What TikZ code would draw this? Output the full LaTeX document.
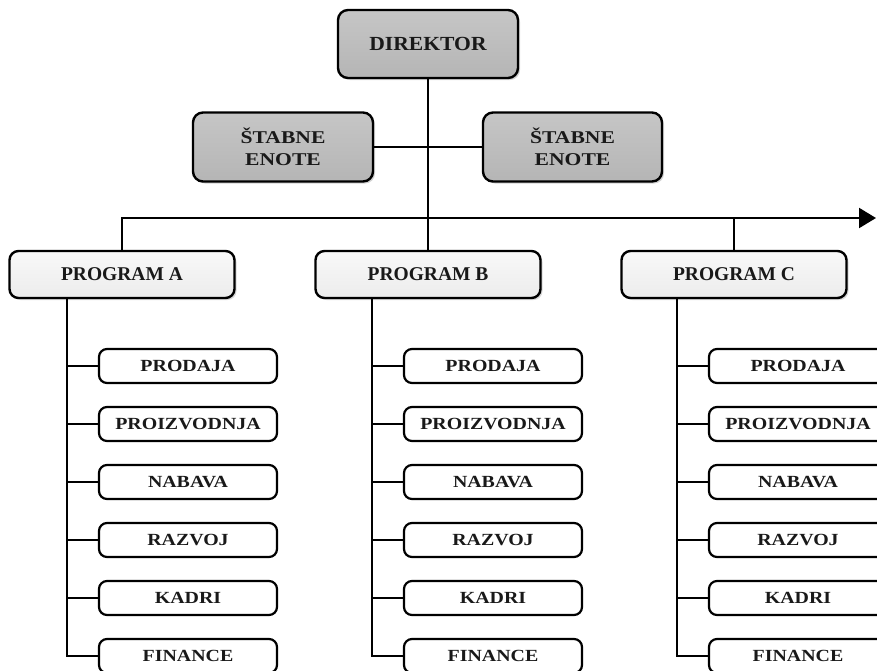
\documentclass[tikz,border=0pt]{standalone}
\usepackage{fontspec}
\setmainfont{Liberation Serif}
\newfontfamily\bigfont[FakeStretch=1.08]{Liberation Serif}
\newfontfamily\stabfont[FakeStretch=1.2]{Liberation Serif}
\newfontfamily\progfont[FakeStretch=1.0]{Liberation Serif}
\newfontfamily\smallfont[FakeStretch=1.17]{Liberation Serif}
\usetikzlibrary{arrows.meta,shadows}
\tikzset{
  topbox/.style={draw=black, line width=2.4pt, rounded corners=10pt,
    top color=gray!45, bottom color=gray!58,
    drop shadow={shadow xshift=2pt, shadow yshift=-2pt, opacity=0.35, fill=gray},
    minimum width=180pt, minimum height=68pt, align=center,
    font=\bigfont\bfseries\fontsize{20}{22}\selectfont, text=black!90},
  stabbox/.style={topbox, minimum height=69pt,
    font=\stabfont\bfseries\fontsize{18}{22}\selectfont},
  progbox/.style={draw=black, line width=2.4pt, rounded corners=9pt,
    top color=gray!5, bottom color=gray!15,
    drop shadow={shadow xshift=2pt, shadow yshift=-2pt, opacity=0.3, fill=gray},
    minimum width=225pt, minimum height=47pt,
    font=\progfont\bfseries\fontsize{19.5}{20}\selectfont, text=black!90},
  subbox/.style={draw=black, line width=2.2pt, rounded corners=8pt, fill=white,
    minimum width=178pt, minimum height=34pt,
    font=\smallfont\bfseries\fontsize{17}{18}\selectfont, text=black!90},
  conn/.style={line width=2.2pt, draw=black},
}
\begin{document}
\begin{tikzpicture}[x=1pt,y=-1pt]
\useasboundingbox (0,0) rectangle (877,670);
\node[topbox] (dir) at (428,44) {DIREKTOR};
\node[stabbox] (stL) at (283,147) {ŠTABNE\\ENOTE};
\node[stabbox, minimum width=179pt] (stR) at (572.5,147) {ŠTABNE\\ENOTE};
\node[progbox] (pA) at (122,274.5) {PROGRAM A};
\node[progbox] (pB) at (428,274.5) {PROGRAM B};
\node[progbox] (pC) at (734,274.5) {PROGRAM C};
\coordinate (aend) at (876,218);
\coordinate (vA) at (67,298);
\coordinate (vB) at (372,298);
\coordinate (vC) at (677,298);
% connectors
\draw[conn] (stL.east) -- (stR.west);
\draw[conn] (dir.south) -- (pB.north);
\draw[conn, -{Triangle[length=17pt,width=20pt]}] (pA.north) |- (aend);
\draw[conn] (pC.north) -- (pC.north |- aend);
\foreach \p/\v/\cx in {A/vA/188, B/vB/493, C/vC/798}{
  \node[subbox] (\p1) at (\cx,366) {PRODAJA};
  \node[subbox] (\p2) at (\cx,424) {PROIZVODNJA};
  \node[subbox] (\p3) at (\cx,482) {NABAVA};
  \node[subbox] (\p4) at (\cx,540) {RAZVOJ};
  \node[subbox] (\p5) at (\cx,598) {KADRI};
  \node[subbox] (\p6) at (\cx,656) {FINANCE};
  \draw[conn] (\v) |- (\p6.west);
  \foreach \i in {1,...,5}{
    \draw[conn] (\v |- \p\i.west) -- (\p\i.west);
  }
}
\end{tikzpicture}
\end{document}
